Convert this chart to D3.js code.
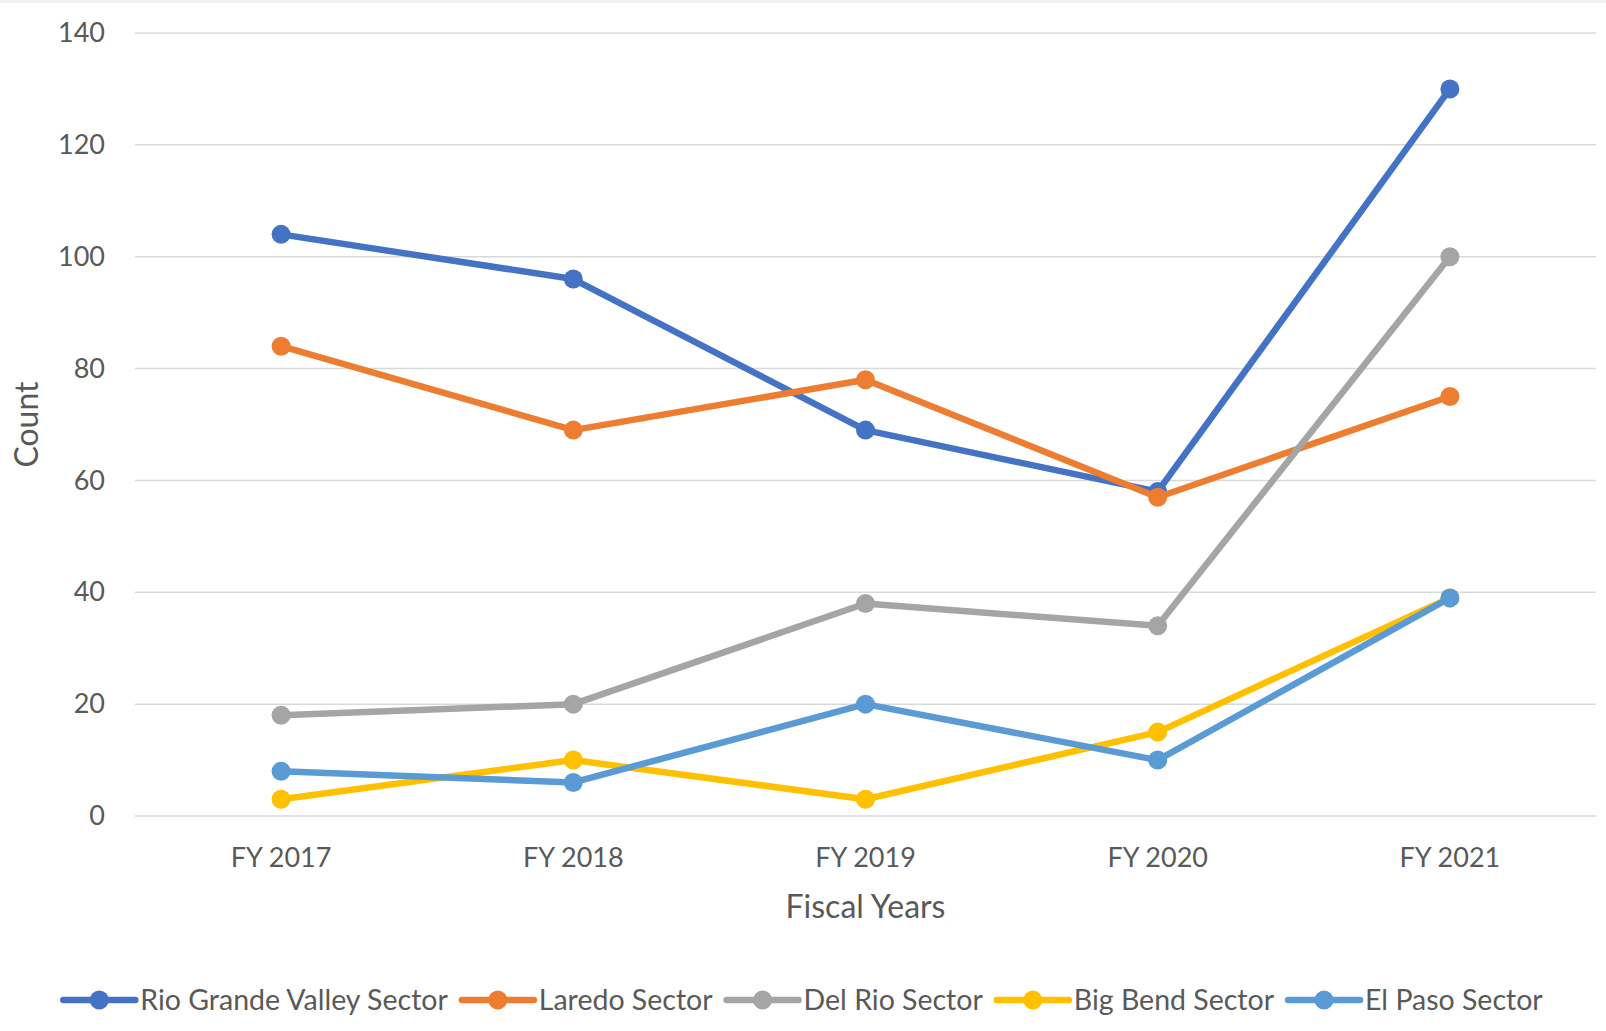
<!DOCTYPE html>
<html>
<head>
<meta charset="utf-8">
<script src="https://cdn.jsdelivr.net/npm/d3@7"></script>
<style>
  body { margin: 0; background: #fff; }
  svg text { font-family: Lato, "Open Sans", sans-serif; fill: #595959; }
</style>
</head>
<body>
<svg id="chart" width="1606" height="1031"></svg>
<script>
// Fiscal years on the x axis
const years = ["FY 2017", "FY 2018", "FY 2019", "FY 2020", "FY 2021"];

// Counts by sector
const rioGrandeValley = [104, 96, 69, 58, 130];
const laredo = [84, 69, 78, 57, 75];
const delRio = [18, 20, 38, 34, 100];
const bigBend = [3, 10, 3, 15, 39];
const elPaso = [8, 6, 20, 10, 39];

const yTicks = [0, 20, 40, 60, 80, 100, 120, 140];

const series = [
  { name: "Rio Grande Valley Sector", values: rioGrandeValley, color: "#4472C4" },
  { name: "Laredo Sector", values: laredo, color: "#ED7D31" },
  { name: "Del Rio Sector", values: delRio, color: "#A5A5A5" },
  { name: "Big Bend Sector", values: bigBend, color: "#FFC000" },
  { name: "El Paso Sector", values: elPaso, color: "#5B9BD5" }
];

const svg = d3.select("#chart"),
      width = +svg.attr("width"),
      height = +svg.attr("height"),
      margin = { top: 33, right: 10, bottom: 215, left: 135 };

// thin grey strip along the top edge
svg.append("rect")
  .attr("x", 0).attr("y", 0)
  .attr("width", width).attr("height", 3)
  .attr("fill", "#f2f2f2");

const x = d3.scaleBand()
  .domain(years)
  .range([margin.left, width - margin.right]);

const y = d3.scaleLinear()
  .domain([0, 140])
  .range([height - margin.bottom, margin.top]);

// Gridlines
svg.append("g")
  .selectAll("line")
  .data(yTicks)
  .enter()
  .append("line")
  .attr("x1", margin.left)
  .attr("x2", width - margin.right)
  .attr("y1", d => y(d))
  .attr("y2", d => y(d))
  .attr("stroke", "#d9d9d9")
  .attr("stroke-width", 1.5);

// Y axis labels
const yAxis = svg.append("g")
  .attr("transform", `translate(${margin.left},0)`)
  .call(d3.axisLeft(y).tickValues(yTicks).tickSize(0).tickPadding(30));
yAxis.select(".domain").remove();
yAxis.selectAll("text")
  .attr("font-family", null)
  .style("font-size", "27px");

// X axis labels
const xAxis = svg.append("g")
  .attr("transform", `translate(0,${height - margin.bottom})`)
  .call(d3.axisBottom(x).tickSize(0).tickPadding(32));
xAxis.select(".domain").remove();
xAxis.selectAll("text")
  .attr("font-family", null)
  .style("font-size", "27px");

// Lines
const line = d3.line()
  .x((d, i) => x(years[i]) + x.bandwidth() / 2)
  .y(d => y(d));

series.forEach(s => {
  svg.append("path")
    .datum(s.values)
    .attr("fill", "none")
    .attr("stroke", s.color)
    .attr("stroke-width", 6.5)
    .attr("stroke-linejoin", "round")
    .attr("d", line);

  svg.append("g")
    .selectAll("circle")
    .data(s.values)
    .enter()
    .append("circle")
    .attr("cx", (d, i) => x(years[i]) + x.bandwidth() / 2)
    .attr("cy", d => y(d))
    .attr("r", 9.5)
    .attr("fill", s.color);
});

// Axis titles
svg.append("text")
  .attr("x", (margin.left + width - margin.right) / 2)
  .attr("y", 907)
  .attr("dy", "0.35em")
  .attr("text-anchor", "middle")
  .style("font-size", "32px")
  .text("Fiscal Years");

svg.append("text")
  .attr("transform", "rotate(-90)")
  .attr("x", -(y(0) + y(140)) / 2)
  .attr("y", 27)
  .attr("dy", "0.35em")
  .attr("text-anchor", "middle")
  .style("font-size", "32px")
  .text("Count");

// Legend
const legend = svg.append("g");
const legendY = 1000;
let lx = 0;
series.forEach(s => {
  const item = legend.append("g").attr("transform", `translate(${lx},0)`);
  item.append("line")
    .attr("x1", 0).attr("x2", 72)
    .attr("y1", legendY).attr("y2", legendY)
    .attr("stroke", s.color)
    .attr("stroke-width", 6.5)
    .attr("stroke-linecap", "round");
  item.append("circle")
    .attr("cx", 36).attr("cy", legendY).attr("r", 9.5)
    .attr("fill", s.color);
  const t = item.append("text")
    .attr("x", 77)
    .attr("y", legendY)
    .attr("dy", "0.35em")
    .style("font-size", "28.5px")
    .text(s.name);
  lx += 77 + t.node().getComputedTextLength() + 14;
});
legend.attr("transform", `translate(${(width - (lx - 14)) / 2},0)`);
</script>
</body>
</html>
